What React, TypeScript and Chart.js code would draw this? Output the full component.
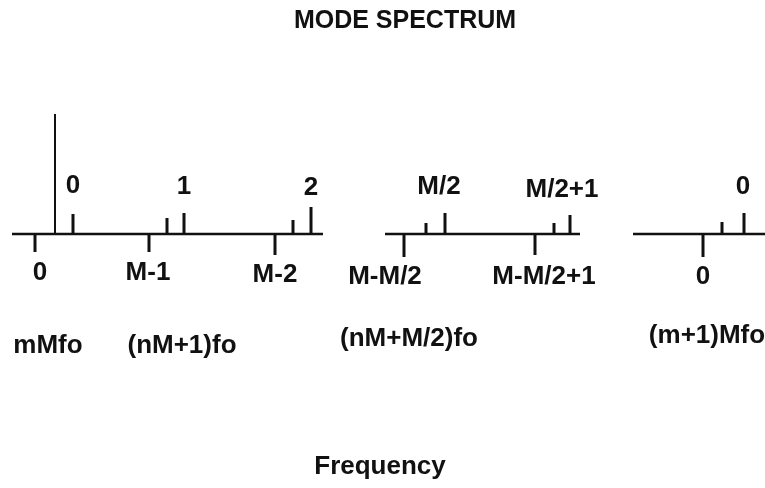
import { useEffect, useRef } from "react";
import { Chart, registerables } from "chart.js";

Chart.register(...registerables);

// Frequency axis in arbitrary units, amplitude in arbitrary units (baseline = 0)
const BASELINES: number[][] = [[1.2, 32.3], [38.5, 58.0], [63.3, 76.6]];
const CARRIER_X = [5.5];
const CARRIER_A = [12.0];
const SIDEBAND_X = [7.3, 16.7, 18.4, 29.3, 31.1, 42.6, 44.5, 55.4, 57.0, 72.2, 74.4];
const SIDEBAND_A = [2.0, 1.6, 2.1, 1.4, 2.7, 1.1, 2.1, 1.1, 1.9, 1.2, 2.1];
const MARK_X = [3.5, 14.9, 27.5, 40.4, 53.5, 70.3];
const MARK_A = [-1.8, -1.8, -2.1, -2.3, -2.1, -2.3];

const UPPER_LABELS = ["0", "1", "2", "M/2", "M/2+1", "0"];
const UPPER_X = [7.3, 18.4, 31.1, 43.9, 56.2, 74.3];
const UPPER_Y = [4.8, 4.7, 4.6, 4.7, 4.4, 4.7];
const LOWER_LABELS = ["0", "M-1", "M-2", "M-M/2", "M-M/2+1", "0"];
const LOWER_X = [4.0, 14.8, 27.5, 38.5, 54.4, 70.3];
const LOWER_Y = [-3.9, -3.9, -4.1, -4.3, -4.3, -4.3];
const FREQ_LABELS = ["mMfo", "(nM+1)fo", "(nM+M/2)fo", "(m+1)Mfo"];
const FREQ_X = [4.8, 18.2, 40.9, 70.7];
const FREQ_Y = [-11.2, -11.2, -10.5, -10.2];
const TITLE = "MODE SPECTRUM";
const TITLE_POS = [40.5, 21.3];
const AXIS_TITLE = "Frequency";
const AXIS_TITLE_POS = [38.0, -23.3];

const INK = "#111";
const FONT = "'Liberation Sans', Arial, sans-serif";

function stems(xs: number[], as: number[]) {
  const out: { x: number; y: number | null }[] = [];
  xs.forEach((x, i) => {
    out.push({ x, y: 0 }, { x, y: as[i] }, { x, y: null });
  });
  return out;
}

export default function App() {
  const ref = useRef<HTMLCanvasElement | null>(null);

  useEffect(() => {
    if (!ref.current) return;
    const baseData: { x: number; y: number | null }[] = [];
    BASELINES.forEach(([a, b]) => {
      baseData.push({ x: a, y: 0 }, { x: b, y: 0 }, { x: b, y: null });
    });

    const textPlugin = {
      id: "diagramText",
      afterDraw(chart: any) {
        const { ctx } = chart;
        const xs = chart.scales.x;
        const ys = chart.scales.y;
        ctx.save();
        ctx.fillStyle = INK;
        ctx.textAlign = "center";
        ctx.textBaseline = "middle";
        const put = (t: string, x: number, y: number, size: number) => {
          ctx.font = `bold ${size}px ${FONT}`;
          ctx.fillText(t, xs.getPixelForValue(x), ys.getPixelForValue(y));
        };
        UPPER_LABELS.forEach((t, i) => put(t, UPPER_X[i], UPPER_Y[i], 26));
        LOWER_LABELS.forEach((t, i) => put(t, LOWER_X[i], LOWER_Y[i], 26));
        FREQ_LABELS.forEach((t, i) => put(t, FREQ_X[i], FREQ_Y[i], 26));
        put(TITLE, TITLE_POS[0], TITLE_POS[1], 25);
        put(AXIS_TITLE, AXIS_TITLE_POS[0], AXIS_TITLE_POS[1], 26);
        ctx.restore();
      },
    };

    const chart = new Chart(ref.current, {
      type: "scatter",
      data: {
        datasets: [
          { data: baseData, borderColor: INK, borderWidth: 2.5, showLine: true, pointRadius: 0, spanGaps: false },
          { data: stems(CARRIER_X, CARRIER_A), borderColor: INK, borderWidth: 2, showLine: true, pointRadius: 0, spanGaps: false },
          { data: stems(SIDEBAND_X, SIDEBAND_A), borderColor: INK, borderWidth: 3, showLine: true, pointRadius: 0, spanGaps: false },
          { data: stems(MARK_X, MARK_A), borderColor: INK, borderWidth: 3, showLine: true, pointRadius: 0, spanGaps: false },
        ],
      } as any,
      options: {
        responsive: false,
        animation: false,
        layout: { padding: 0, autoPadding: false } as any,
        plugins: { legend: { display: false }, tooltip: { enabled: false }, title: { display: false } },
        scales: {
          x: { type: "linear", display: false, min: 0, max: 76.5 },
          y: { type: "linear", display: false, min: -25.4, max: 23.4 },
        },
      },
      plugins: [textPlugin],
    });
    return () => chart.destroy();
  }, []);

  return (
    <div style={{ position: "absolute", left: 0, top: 0, width: 765, height: 488, background: "#fff" }}>
      <canvas ref={ref} width={765} height={488} />
    </div>
  );
}
